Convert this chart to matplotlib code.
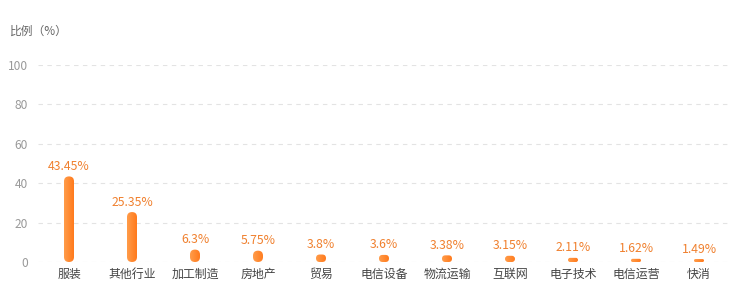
import matplotlib
matplotlib.use("Agg")
import matplotlib.pyplot as plt
import numpy as np
from matplotlib.patches import FancyBboxPatch
from matplotlib.colors import LinearSegmentedColormap

plt.rcParams['font.family'] = ['Noto Sans CJK SC', 'DejaVu Sans']

categories = ["服装", "其他行业", "加工制造", "房地产", "贸易", "电信设备",
              "物流运输", "互联网", "电子技术", "电信运营", "快消"]
values = [43.45, 25.35, 6.3, 5.75, 3.8, 3.6, 3.38, 3.15, 2.11, 1.62, 1.49]
y_ticks = [0, 20, 40, 60, 80, 100]
y_title = "比例（%）"

W, H, DPI = 738, 298, 100
fig = plt.figure(figsize=(W / DPI, H / DPI), dpi=DPI)
ax_left, ax_right, ax_top, ax_bottom = 37.5, 730.5, 65, 262
ax = fig.add_axes([ax_left / W, (H - ax_bottom) / H,
                   (ax_right - ax_left) / W, (ax_bottom - ax_top) / H])

n = len(categories)
ax.set_xlim(-0.5, n - 0.5)
ax.set_ylim(0, 100)

# pixels per data unit, used to keep the bar caps circular
px_x = (ax_right - ax_left) / n
px_y = (ax_bottom - ax_top) / 100.0
aspect = px_x / px_y

bar_px = 10
bw = bar_px / px_x
cmap = LinearSegmentedColormap.from_list("bar", ["#ff9c4a", "#ff7a1c"])
grad = np.linspace(0, 1, 64).reshape(1, -1)

for i, v in enumerate(values):
    x0 = i - bw / 2
    r = min(bw / 2, (v / aspect) / 2)
    patch = FancyBboxPatch((x0, 0), bw, v,
                           boxstyle=f"round,pad=0,rounding_size={r}",
                           mutation_aspect=aspect,
                           facecolor="none", edgecolor="none", zorder=3)
    ax.add_patch(patch)
    im = ax.imshow(grad, cmap=cmap, extent=(x0, x0 + bw, 0, v),
                   aspect="auto", zorder=3, interpolation="bilinear")
    im.set_clip_path(patch)
    ax.text(i, v + 3.5 / px_y, f"{v:g}%", ha="center", va="bottom",
            color="#f0802e", fontsize=8.8, zorder=4)

ax.set_aspect("auto")
ax.set_xlim(-0.5, n - 0.5)
ax.set_ylim(0, 100)

for t in y_ticks:
    ax.axhline(t, color="#e3e3e3", linewidth=0.8, linestyle=(0, (4, 4)), zorder=1)

ax.set_xticks(range(n))
ax.set_xticklabels(categories, fontsize=8.6, color="#444444")
ax.set_yticks(y_ticks)
ax.set_yticklabels([str(t) for t in y_ticks], fontsize=8.6, color="#999999")
ax.tick_params(axis="both", length=0)
ax.tick_params(axis="x", pad=4)
ax.tick_params(axis="y", pad=7)
for s in ax.spines.values():
    s.set_visible(False)

fig.text(10 / W, 1 - 31 / H, y_title, fontsize=8.5, color="#666666",
         ha="left", va="center")

fig.savefig("out.png", dpi=DPI)
